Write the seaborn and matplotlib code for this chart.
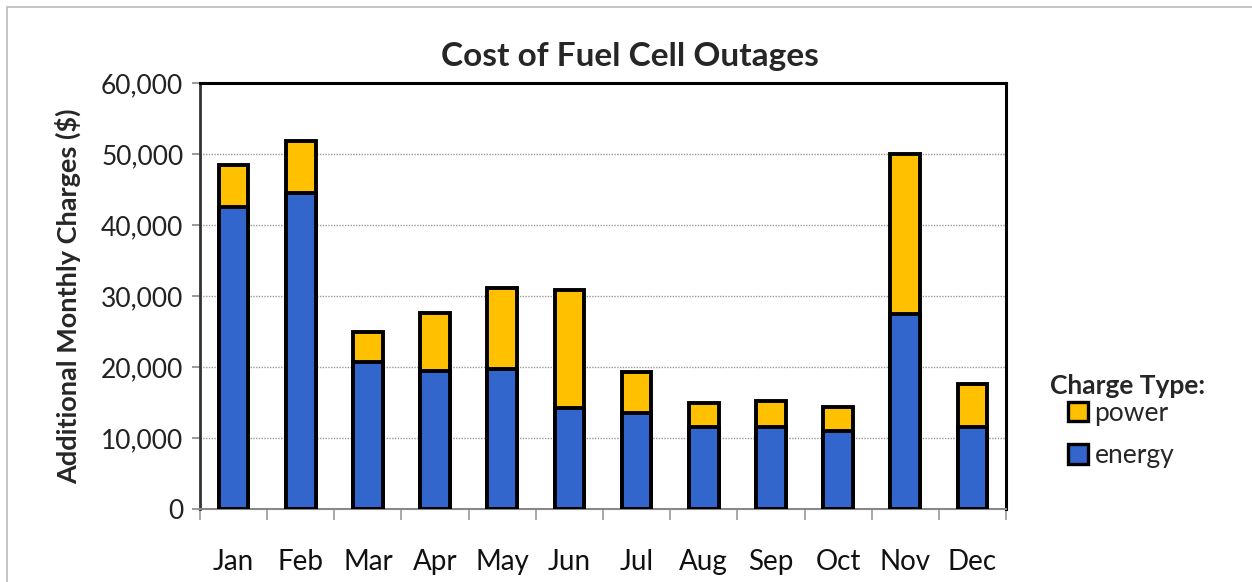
import matplotlib
matplotlib.use("Agg")
import matplotlib.pyplot as plt
from matplotlib.lines import Line2D
from matplotlib.patches import Patch
import seaborn as sns
import pandas as pd
import numpy as np

months = ["Jan", "Feb", "Mar", "Apr", "May", "Jun", "Jul", "Aug", "Sep", "Oct", "Nov", "Dec"]
energy = [42500, 44500, 20700, 19500, 19700, 14200, 13500, 11500, 11500, 11000, 27400, 11500]
power = [5900, 7300, 4200, 8100, 11400, 16600, 5800, 3500, 3700, 3400, 22600, 6100]
yticks = [0, 10000, 20000, 30000, 40000, 50000, 60000]

sns.set_theme(style="white")
plt.rcParams['font.family'] = ['Lato', 'DejaVu Sans']

df = pd.DataFrame({"month": months, "energy": energy, "power": power})
df["total"] = df["energy"] + df["power"]

fig = plt.figure(figsize=(12.52, 5.82), dpi=100)
ax = fig.add_axes([200/1252, 1-509/582, 806/1252, 426/582])

blue = "#3366CC"
gold = "#FFC000"

sns.barplot(data=df, x="month", y="total", color=gold, width=0.44,
            edgecolor="black", linewidth=2.8, ax=ax, saturation=1, zorder=3)
sns.barplot(data=df, x="month", y="energy", color=blue, width=0.44,
            edgecolor="black", linewidth=2.8, ax=ax, saturation=1, zorder=4)

ax.set_ylim(0, 60000)
ax.set_xlim(-0.5, 11.5)
ax.set_yticks(yticks)
ax.set_yticklabels([f"{v:,}" for v in yticks], fontsize=19, color="#222222")
ax.yaxis.grid(True, linestyle=(0, (1, 1)), color="#999999", linewidth=1, zorder=0)
ax.xaxis.grid(False)
ax.set_axisbelow(True)

ax.set_xticks(range(len(months)))
ax.set_xticklabels(months, fontsize=20, color="#111111")
ax.set_xticks(np.arange(-0.5, 12, 1), minor=True)
ax.tick_params(axis="x", which="major", length=0, pad=29)
ax.tick_params(axis="x", which="minor", length=8, width=1.2, color="#999999", direction="out", bottom=True)
ax.tick_params(axis="y", length=6, width=1.2, color="#888888", direction="out", left=True, pad=6)

ax.set_xlabel("")
ax.set_ylabel("Additional Monthly Charges ($)", fontsize=19.5, fontweight="bold", labelpad=14)
ax.set_title("Cost of Fuel Cell Outages", fontsize=24, fontweight="bold", pad=12, x=(630-200)/806)

for s in ["top", "right"]:
    ax.spines[s].set_color("black")
    ax.spines[s].set_linewidth(2.2)
ax.spines["left"].set_color("#333333")
ax.spines["left"].set_linewidth(2)
ax.spines["bottom"].set_color("#888888")
ax.spines["bottom"].set_linewidth(1.5)

handles = [Patch(facecolor=gold, edgecolor="black", linewidth=2.4, label="power"),
           Patch(facecolor=blue, edgecolor="black", linewidth=2.4, label="energy")]
fig.text(1050/1252, 1-386/582, "Charge Type:", fontsize=19, fontweight="bold",
         ha="left", va="center")
leg = fig.legend(handles=handles, loc="upper left",
                 bbox_to_anchor=(1068/1252, 1-401/582), frameon=False,
                 fontsize=19, handlelength=0.75, handleheight=0.75, handletextpad=0.25,
                 labelspacing=0.65, borderaxespad=0, borderpad=0)

fig.add_artist(Line2D([7/1252, 7/1252], [0, 1-7/582], color="#BBBBBB", linewidth=1.2))
fig.add_artist(Line2D([7/1252, 1], [1-7/582, 1-7/582], color="#BBBBBB", linewidth=1.2))

fig.savefig("out.png", dpi=100)
